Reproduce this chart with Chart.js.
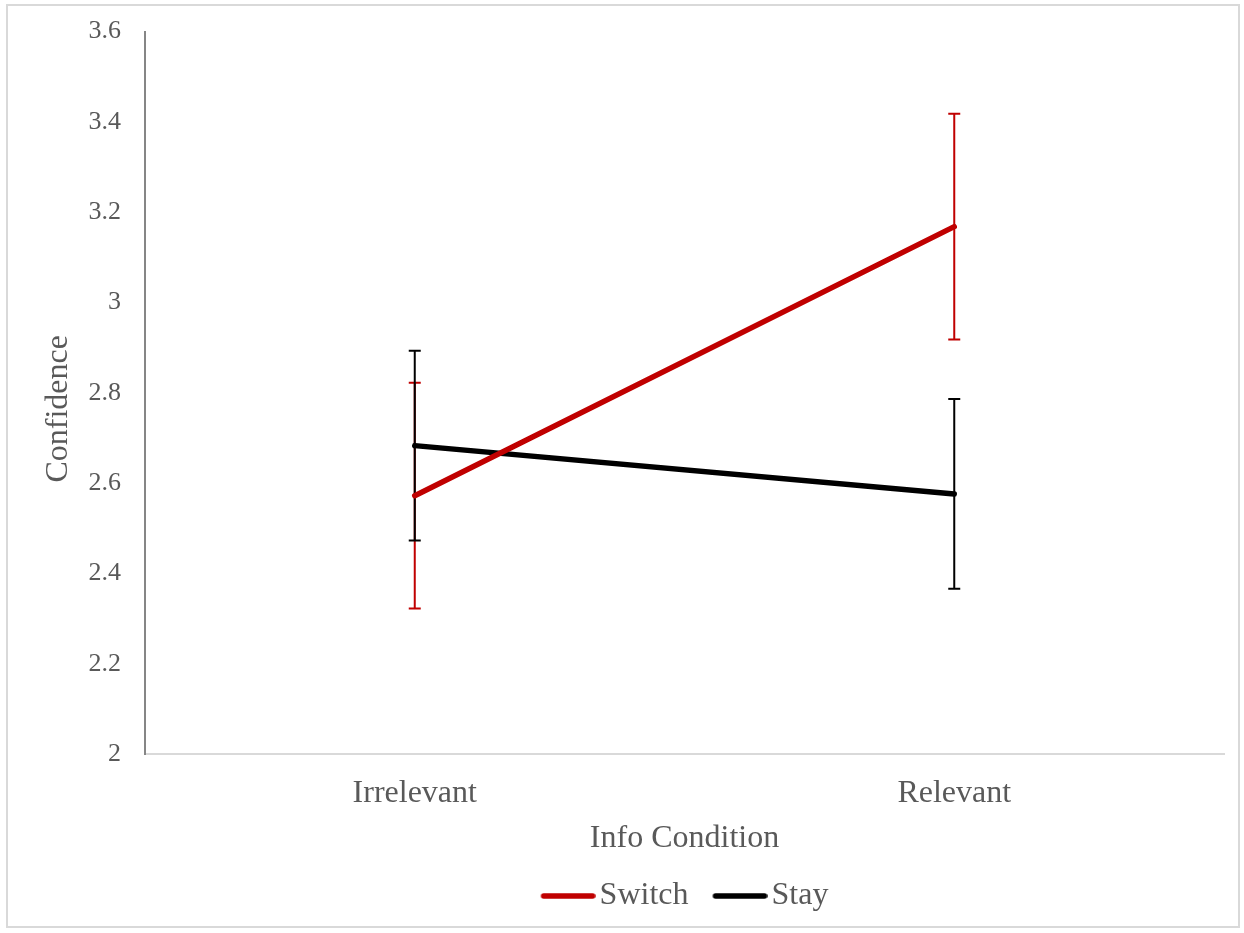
<!DOCTYPE html>
<html>
<head>
<meta charset="utf-8">
<script src="https://cdn.jsdelivr.net/npm/chart.js@4.4.1/dist/chart.umd.min.js"></script>
<style>
  html, body { margin:0; padding:0; background:#fff; }
  #wrap  { position:relative; width:1244px; height:933px; }
  #frame { position:absolute; left:6px; top:4px; width:1234px; height:924px;
           border:2px solid #d9d9d9; box-sizing:border-box; pointer-events:none; }
</style>
</head>
<body>
<div id="wrap">
  <canvas id="chart" width="1244" height="933"></canvas>
  <div id="frame"></div>
</div>
<script>
// ── Data ──────────────────────────────────────────────
const categories  = ["Irrelevant", "Relevant"];
const switchMeans = [2.572, 3.168];
const switchErr   = [0.25, 0.25];
const stayMeans   = [2.683, 2.576];
const stayErr     = [0.21, 0.21];
const yTicks      = [2, 2.2, 2.4, 2.6, 2.8, 3, 3.2, 3.4, 3.6];

const FONT  = "'Liberation Serif', 'Times New Roman', serif";
const GREY  = "#595959";
const RED   = "#C00000";
const BLACK = "#000000";
const LINE_W = 5.5;

// legend swatch: a short thick line sitting right next to the label text
function legendLine(color) {
  const c = document.createElement("canvas");
  c.width = 67; c.height = 8;
  const g = c.getContext("2d");
  g.strokeStyle = color; g.lineWidth = LINE_W; g.lineCap = "round";
  g.beginPath(); g.moveTo(15, 4); g.lineTo(64, 4); g.stroke();
  return c;
}

// error bars drawn under the lines, through the chart's own scales
const errorBars = {
  id: "errorBars",
  beforeDatasetsDraw(chart) {
    const { ctx, scales: { x, y } } = chart;
    ctx.save();
    chart.data.datasets.forEach(ds => {
      ctx.strokeStyle = ds.borderColor;
      ctx.lineWidth = 2;
      ds.data.forEach((v, i) => {
        const px  = x.getPixelForValue(i);
        const top = y.getPixelForValue(v + ds.errors[i]);
        const bot = y.getPixelForValue(v - ds.errors[i]);
        ctx.beginPath();
        ctx.moveTo(px, top); ctx.lineTo(px, bot);
        ctx.moveTo(px - 6, top); ctx.lineTo(px + 6, top);
        ctx.moveTo(px - 6, bot); ctx.lineTo(px + 6, bot);
        ctx.stroke();
      });
    });
    ctx.restore();
  }
};

new Chart(document.getElementById("chart"), {
  type: "line",
  data: {
    labels: categories,
    datasets: [
      { label:"Switch", data:switchMeans, errors:switchErr, borderColor:RED,   backgroundColor:RED,
        borderWidth:LINE_W, pointStyle:legendLine(RED) },
      { label:"Stay",   data:stayMeans,   errors:stayErr,   borderColor:BLACK, backgroundColor:BLACK,
        borderWidth:LINE_W, pointStyle:legendLine(BLACK) },
    ]
  },
  options: {
    responsive:false, animation:false,
    layout: { padding: { left:0, top:20, right:20, bottom:11 } },
    elements: {
      line:  { borderCapStyle:"round", tension:0 },
      point: { radius:0, hoverRadius:0 }
    },
    plugins: {
      tooltip: { enabled:false },
      legend: {
        position:"bottom", fullSize:false,
        labels: {
          usePointStyle:true, pointStyleWidth:43,
          font:{ family:FONT, size:32 }, color:GREY, padding:24
        }
      }
    },
    scales: {
      x: {
        offset:true,
        grid:{ display:false, drawTicks:false },
        border:{ display:true, color:"#d9d9d9", width:2 },
        ticks:{ font:{ family:FONT, size:32 }, color:GREY, padding:20 },
        title:{ display:true, text:"Info Condition", font:{ family:FONT, size:32 }, color:GREY,
                padding:{ top:0, bottom:-2 } },
        afterFit(s){ s.height = 102; }
      },
      y: {
        min:2, max:3.6,
        afterBuildTicks(s){ s.ticks = yTicks.map(v => ({ value:v })); },
        grid:{ display:false, drawTicks:true, tickLength:8 },
        border:{ display:true, color:"#868686", width:2 },
        ticks:{ font:{ family:FONT, size:26 }, color:GREY, padding:16,
                callback: v => String(+v.toFixed(1)) },
        // trailing spaces nudge the rotated title a little below the axis middle
        title:{ display:true, text:"Confidence    ", font:{ family:FONT, size:32 }, color:GREY,
                padding:{ top:39, bottom:0 } },
        afterFit(s){ s.width = 145; }
      }
    }
  },
  plugins:[errorBars]
});
</script>
</body>
</html>
